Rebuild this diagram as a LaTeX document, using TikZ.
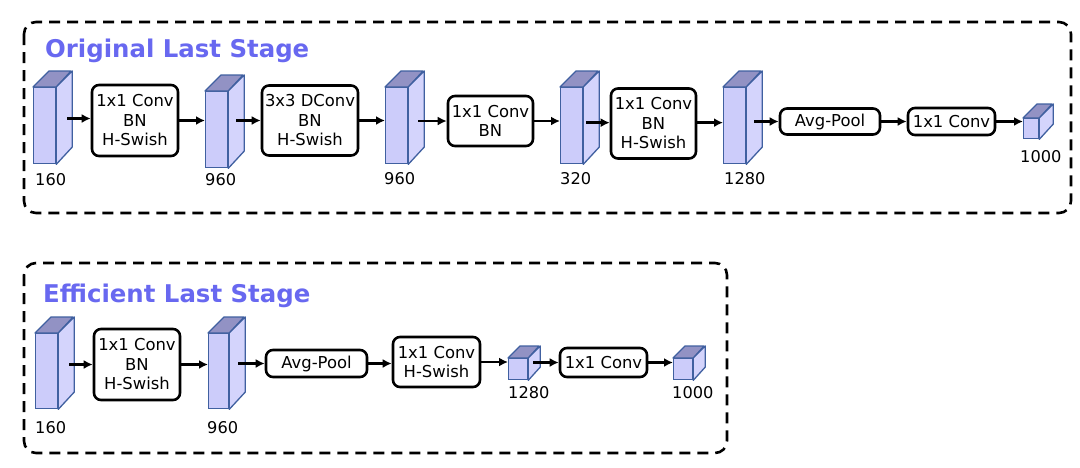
\documentclass[tikz,border=0pt]{standalone}
\usepackage{fontspec}
\setmainfont{DejaVu Sans}
\usetikzlibrary{calc,arrows.meta}
\definecolor{titleblue}{RGB}{104,104,240}
\definecolor{cubefill}{RGB}{204,204,250}
\definecolor{cubeside}{RGB}{212,212,252}
\definecolor{cubetopc}{RGB}{146,146,196}
\definecolor{cubeline}{RGB}{64,96,160}
\tikzset{
  frame/.style={draw=black, line width=2.6pt, dash pattern=on 11pt off 7pt, rounded corners=12pt},
  opbox/.style={draw=black, line width=2.6pt, rounded corners=7pt, inner sep=0pt, align=center,
    font=\fontsize{16.4}{19.5}\selectfont},
  cubefront/.style={draw=cubeline, fill=cubefill, line width=1.3pt, inner sep=0pt},
  cubeedge/.style={draw=cubeline, line width=1.3pt, line join=round},
  dimlabel/.style={font=\fontsize{16.2}{19}\selectfont, inner sep=0pt, anchor=west},
  ttl/.style={font=\fontsize{24.4}{28}\selectfont\bfseries, text=titleblue, inner sep=0pt, anchor=base west},
  arr/.style={line width=2.6pt, -{Latex[length=9pt,width=9pt]}}
}
\newcommand\mycuboid[6]{% name, x, y, w, h, d
  \node[cubefront, minimum width=#4pt, minimum height=#5pt, anchor=north west] (#1) at (#2,#3) {};
  \draw[cubeedge, fill=cubetopc] (#1.north west) -- ++(#6,-#6) -- ++(#4,0) -- (#1.north east) -- cycle;
  \draw[cubeedge, fill=cubeside] (#1.north east) -- ++(#6,-#6) -- ++(0,#5) -- (#1.south east) -- cycle;
}
\begin{document}
\begin{tikzpicture}[x=1pt,y=-1pt]
\useasboundingbox (0,0) rectangle (1080,467);
% frames
\draw[frame] (24,22) rectangle (1071,213);
\draw[frame] (24,263) rectangle (727,453);
\node[ttl] (t1) at (45,57) {Original Last Stage};
\node[ttl] (t2) at (43,302) {Efficient Last Stage};

% ---- top row ----
\mycuboid{C1}{33}{87}{22}{76}{16}
\mycuboid{C2}{205}{91}{22}{76}{16}
\mycuboid{C3}{385}{87}{22}{76}{16}
\mycuboid{C4}{560}{87}{22}{76}{16}
\mycuboid{C5}{723}{87}{22}{76}{16}
\mycuboid{C6}{1023}{118}{15}{20}{14}

\node[opbox, minimum width=86pt, minimum height=71pt] (B1) at (135,120.5) {1x1 Conv\\BN\\H-Swish};
\node[opbox, minimum width=96pt, minimum height=70pt] (B2) at (310,120.5) {3x3 DConv\\BN\\H-Swish};
\node[opbox, minimum width=85pt, minimum height=50pt] (B3) at (490.5,121) {1x1 Conv\\BN};
\node[opbox, minimum width=85pt, minimum height=70pt] (B4) at (653.5,123.5) {1x1 Conv\\BN\\H-Swish};
\node[opbox, minimum width=100pt, minimum height=26pt] (B5) at (830,121.5) {Avg-Pool};
\node[opbox, minimum width=87pt, minimum height=27pt] (B6) at (951.5,121.5) {1x1 Conv};

\node[dimlabel] (L1) at (35,180) {160};
\node[dimlabel] (L2) at (205,180) {960};
\node[dimlabel] (L3) at (384,179) {960};
\node[dimlabel] (L4) at (560,179) {320};
\node[dimlabel] (L5) at (724,179) {1280};
\node[dimlabel] (L6) at (1020,157) {1000};

\coordinate (s1) at ($(C1.east |- B1.west)+(11,-2)$);
\coordinate (s2) at ($(C2.east |- B2.west)+(8,0)$);
\coordinate (s3) at ($(C3.east |- B3.west)+(10,0)$);
\coordinate (s4) at ($(C4.east)+(3,-3)$);
\coordinate (s5) at ($(C5.east |- B5.west)+(8,0)$);
\draw[arr] (s1) -- (s1 -| B1.west);
\draw[arr] (B1.east) -- (B1.east -| C2.west);
\draw[arr] (s2) -- (B2.west);
\draw[arr] (B2.east) -- (B2.east -| C3.west);
\draw[arr] (s3) -- (B3.west);
\draw[arr] (B3.east) -- (B3.east -| C4.west);
\draw[arr] (s4) -- (s4 -| B4.west);
\draw[arr] (s4 -| B4.east) -- (s4 -| C5.west);
\draw[arr] (s5) -- (B5.west);
\draw[arr] (B5.east) -- (B6.west);
\draw[arr] (B6.east) -- (B6.east -| C6.west);

% ---- bottom row ----
\mycuboid{D1}{35}{333}{22}{75}{16}
\mycuboid{D2}{208}{333}{20}{75}{16}
\mycuboid{D3}{508}{358}{19}{21}{12}
\mycuboid{D4}{673}{358}{19}{21}{12}

\node[opbox, minimum width=86pt, minimum height=71pt] (E1) at (137,364.5) {1x1 Conv\\BN\\H-Swish};
\node[opbox, minimum width=101pt, minimum height=27pt] (E2) at (316.5,363.5) {Avg-Pool};
\node[opbox, minimum width=87pt, minimum height=50pt] (E3) at (436.5,362) {1x1 Conv\\H-Swish};
\node[opbox, minimum width=87pt, minimum height=29pt] (E4) at (603.5,362.5) {1x1 Conv};

\node[dimlabel] (M1) at (35,428) {160};
\node[dimlabel] (M2) at (207,428) {960};
\node[dimlabel] (M3) at (508,393) {1280};
\node[dimlabel] (M4) at (672,393) {1000};

\coordinate (u1) at ($(D1.east |- E1.west)+(11,0)$);
\coordinate (u2) at ($(D2.east |- E2.west)+(9,0)$);
\coordinate (u3) at ($(D3.east |- E4.west)+(5,0)$);
\draw[arr] (u1) -- (E1.west);
\draw[arr] (E1.east) -- (E1.east -| D2.west);
\draw[arr] (u2) -- (E2.west);
\draw[arr] (E2.east) -- (E2.east -| E3.west);
\draw[arr] (E3.east) -- (E3.east -| D3.west);
\draw[arr] (u3) -- (E4.west);
\draw[arr] (E4.east) -- (E4.east -| D4.west);
\end{tikzpicture}
\end{document}
